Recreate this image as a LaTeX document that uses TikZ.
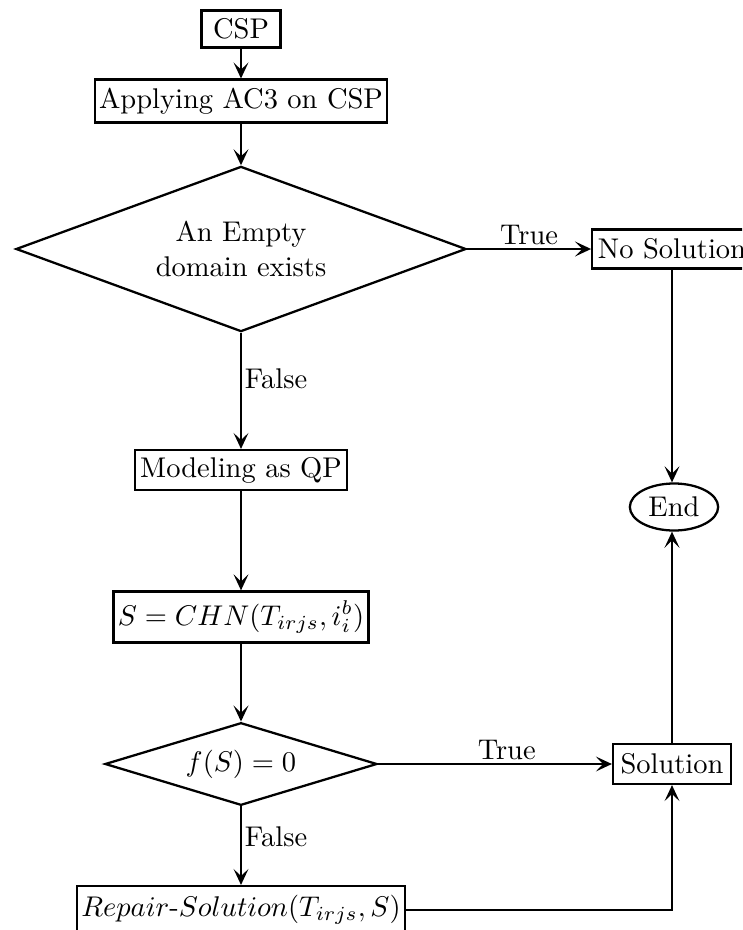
\documentclass[tikz,border=0pt]{standalone}
\usetikzlibrary{shapes.geometric,arrows.meta}
\begin{document}
\begin{tikzpicture}[x=0.351pt,y=-0.351pt,
  box/.style={draw,thick,rectangle,inner sep=1.5pt,align=center},
  dia/.style={draw,thick,diamond,inner sep=0pt},
  arr/.style={thick,-{Stealth[length=5.6pt,width=5.2pt,inset=2.5pt]}},
  lbl/.style={inner sep=1pt}]
\useasboundingbox (0,0) rectangle (742,930);
\clip (0,0) rectangle (742,930);
\node[box,minimum width=27.7pt,minimum height=13pt] (csp) at (241,29) {CSP};
\node[box,minimum width=102.5pt,minimum height=15pt] (ac3) at (241,101) {Applying AC3 on CSP};
\node[dia,minimum width=158pt,minimum height=58pt] (d1) at (241,249) {};
\node[align=center] (d1t) at (d1.center) {An Empty\\domain exists};
\node[box,minimum width=56pt,minimum height=13.7pt] (nos) at (672,249) {No Solution};
\node[draw,thick,ellipse,inner sep=0pt,minimum width=31pt,minimum height=16.5pt] (end) at (674,507) {End};
\node[box,minimum width=74.4pt,minimum height=14pt] (qp) at (241,470) {Modeling as QP};
\node[box,minimum width=89pt,minimum height=17.9pt] (chn) at (241,617) {$S = CHN(T_{irjs}, i_i^b)$};
\node[dia,minimum width=95.5pt,minimum height=29pt] (d2) at (241,764) {};
\node (d2t) at (d2.center) {$f(S) = 0$};
\node[box,minimum width=41.4pt,minimum height=14pt] (sol) at (672,764) {Solution};
\node[box,minimum width=114pt,minimum height=16.8pt] (rep) at (241,910) {$Repair\mbox{-}Solution(T_{irjs}, S)$};
\coordinate (corner) at (sol.south |- rep.east);
\draw[arr] (csp) -- (ac3);
\draw[arr] (ac3) -- (d1.north);
\draw[arr] (d1.east) -- node[lbl,above] {True} (nos.west);
\draw[arr] (nos.south) -- (nos.south |- end.north);
\draw[arr] (d1.south) -- node[lbl,right,pos=0.4] {False} (qp.north);
\draw[arr] (qp) -- (chn);
\draw[arr] (chn) -- (d2.north);
\draw[arr] (d2.east) -- node[lbl,above,pos=0.55] {True} (sol.west);
\draw[arr] (d2.south) -- node[lbl,right,pos=0.38] {False} (rep.north);
\draw[arr] (sol.north) -- (sol.north |- end.south);
\draw[arr] (rep.east) -- (corner) -- (sol.south);
\end{tikzpicture}
\end{document}
